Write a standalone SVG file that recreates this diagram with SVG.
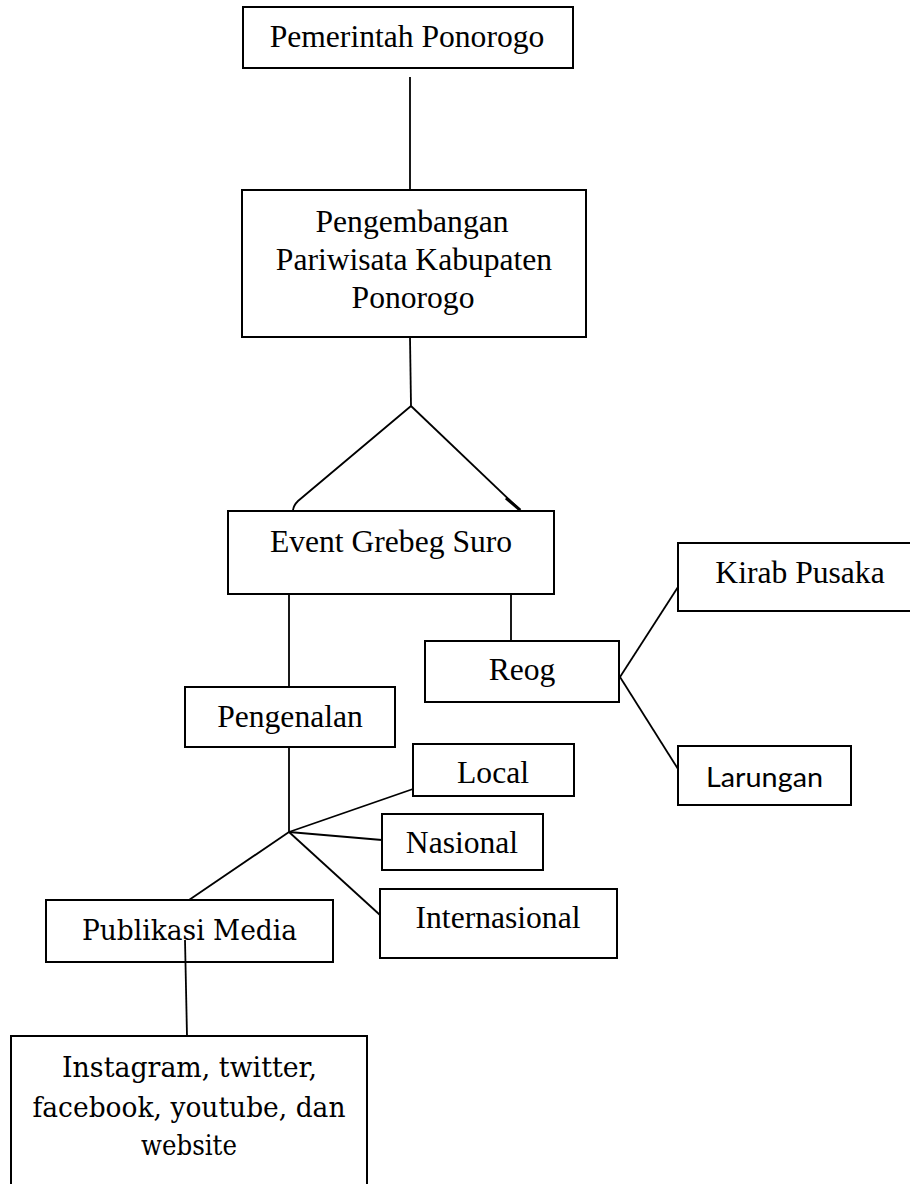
<svg xmlns="http://www.w3.org/2000/svg" width="910" height="1184" viewBox="0 0 910 1184">
<style>
.box{fill:#fff;stroke:#000;stroke-width:2}
.ln{fill:none;stroke:#000;stroke-width:1.8}
.t{font-family:"Liberation Serif","Times New Roman",serif;font-size:31.6px;fill:#000;text-anchor:middle}
.c{font-family:"DejaVu Serif","Liberation Serif",serif;font-size:28.5px;fill:#000;text-anchor:middle}
.k{font-family:"Lato","Open Sans",sans-serif;font-size:27px;fill:#000;text-anchor:middle}
</style>
<rect width="910" height="1184" fill="#fff"/>
<g id="connectors">
<line class="ln" x1="410" y1="77" x2="410" y2="190"/>
<line class="ln" x1="410" y1="337" x2="411" y2="406"/>
<path class="ln" d="M411 406 L298 501 Q293 506 293 511"/>
<path class="ln" d="M411 406 L521 511"/>
<line class="ln" x1="506" y1="498" x2="520" y2="510" style="stroke-width:3"/>
<line class="ln" x1="289" y1="594" x2="289" y2="687"/>
<line class="ln" x1="511" y1="594" x2="511" y2="641"/>
<line class="ln" x1="620" y1="677" x2="678" y2="587"/>
<line class="ln" x1="620" y1="677" x2="678" y2="769"/>
<line class="ln" x1="289" y1="747" x2="289" y2="832"/>
<line class="ln" x1="289" y1="832" x2="413" y2="789"/>
<line class="ln" x1="289" y1="832" x2="382" y2="840"/>
<line class="ln" x1="289" y1="832" x2="380" y2="915"/>
<line class="ln" x1="289" y1="832" x2="189" y2="900"/>
</g>
<g id="n-pemerintah">
<rect class="box" x="243" y="7" width="330" height="61"/>
<text class="t" x="407" y="47">Pemerintah Ponorogo</text>
</g>
<g id="n-pengembangan">
<rect class="box" x="242" y="190" width="344" height="147"/>
<text class="t" x="412" y="232">Pengembangan</text>
<text class="t" x="414" y="270">Pariwisata Kabupaten</text>
<text class="t" x="413" y="308">Ponorogo</text>
</g>
<g id="n-event">
<rect class="box" x="228" y="511" width="326" height="83"/>
<text class="t" x="391" y="552">Event Grebeg Suro</text>
</g>
<g id="n-reog">
<rect class="box" x="425" y="641" width="194" height="61"/>
<text class="t" x="522" y="680">Reog</text>
</g>
<g id="n-kirab">
<rect class="box" x="678" y="543" width="244" height="68"/>
<text class="t" x="800" y="583">Kirab Pusaka</text>
</g>
<g id="n-larungan">
<rect class="box" x="678" y="746" width="173" height="59"/>
<text class="k" x="764.5" y="787" textLength="117" lengthAdjust="spacingAndGlyphs">Larungan</text>
</g>
<g id="n-pengenalan">
<rect class="box" x="185" y="687" width="210" height="60"/>
<text class="t" x="290" y="727">Pengenalan</text>
</g>
<g id="n-local">
<rect class="box" x="413" y="744" width="161" height="52"/>
<text class="t" x="493" y="783">Local</text>
</g>
<g id="n-nasional">
<rect class="box" x="382" y="814" width="161" height="56"/>
<text class="t" x="462" y="853">Nasional</text>
</g>
<g id="n-internasional">
<rect class="box" x="380" y="889" width="237" height="69"/>
<text class="t" x="498" y="928">Internasional</text>
</g>
<g id="n-publikasi">
<rect class="box" x="46" y="900" width="287" height="62"/>
<text class="c" x="189.5" y="940" textLength="215" lengthAdjust="spacingAndGlyphs">Publikasi Media</text>
</g>
<g id="connector-publikasi">
<line class="ln" x1="185" y1="940" x2="187" y2="1036"/>
</g>
<g id="n-media">
<rect class="box" x="11" y="1036" width="356" height="170"/>
<text class="c" x="189.5" y="1077" textLength="255" lengthAdjust="spacingAndGlyphs">Instagram, twitter,</text>
<text class="c" x="189" y="1117" textLength="313" lengthAdjust="spacingAndGlyphs">facebook, youtube, dan</text>
<text class="c" x="189" y="1155" textLength="96" lengthAdjust="spacingAndGlyphs">website</text>
</g>
</svg>
